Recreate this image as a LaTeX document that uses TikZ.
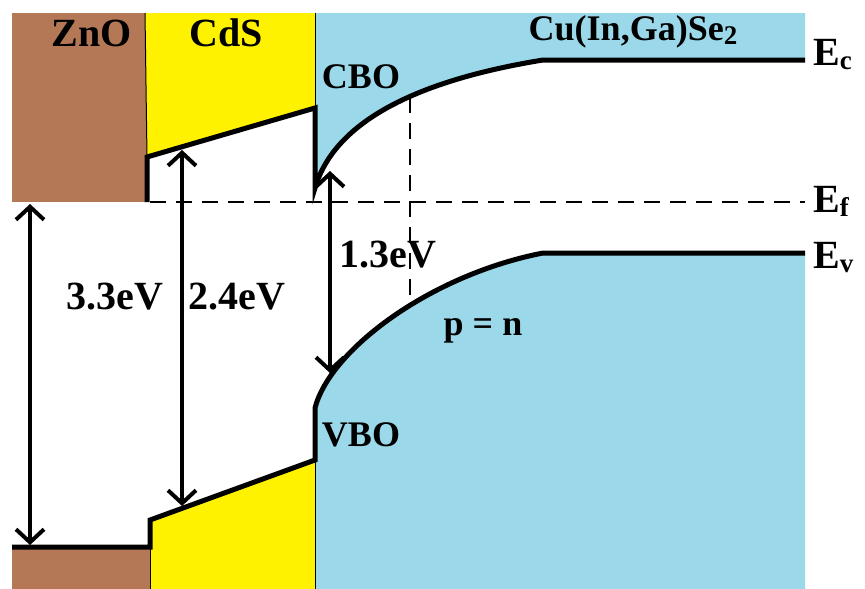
\documentclass[tikz,border=0pt]{standalone}
\usepackage{fontspec}
\setmainfont{Liberation Serif}[BoldFont={Liberation Serif Bold}]
\usetikzlibrary{arrows.meta,calc,positioning}
\definecolor{zno}{RGB}{181,120,86}
\definecolor{cds}{RGB}{255,242,0}
\definecolor{cigs}{RGB}{155,217,234}
\newcommand{\lblsize}[1]{\fontsize{#1}{#1}\selectfont\bfseries}
\newcommand{\lowsub}[1]{\raisebox{-0.25ex}{\fontsize{27}{27}\selectfont #1}}

\begin{document}
\begin{tikzpicture}[x=1pt,y=-1pt,>={Straight Barb[length=13pt,width=28pt]},
  band/.style={line width=5pt,line join=miter},
  gap/.style={<->,line width=4pt},
  level/.style={line width=1.5pt,dash pattern=on 16pt off 10pt},
  edge/.style={line width=1pt},
  txt/.style={inner sep=0pt,font=\lblsize{40}},
  small/.style={inner sep=0pt,font=\lblsize{36}}]
\useasboundingbox (0,0) rectangle (865,589);
% band corners
\coordinate (znoC) at (147,202);
\coordinate (cdsCl) at (147,157);
\coordinate (cdsCr) at (315,108);
\coordinate (cigsC0) at (315,188);
\coordinate (cigsCk) at (543,60);
\coordinate (cigsCr) at (805,60);
\coordinate (znoV) at (12,547);
\coordinate (znoVr) at (150,547);
\coordinate (cdsVl) at (150,520);
\coordinate (cdsVr) at (315,460);
\coordinate (cigsV0) at (315,408);
\coordinate (cigsVk) at (543,253);
\coordinate (cigsVr) at (805,253);
% layers
\fill[zno] (12,13) rectangle (znoC);
\fill[zno] (znoV) rectangle (150,589);
\fill[cds] (145,13) -- (315,13) -- (cdsCr) -- (cdsCl) -- cycle;
\fill[cds] (cdsVl) -- (cdsVr) -- (315,589) -- (150,589) -- cycle;
\fill[cigs] (315,13) -- (805,13) -- (cigsCr) -- (cigsCk)
  .. controls (420,80) and (335,120) .. (cigsC0) -- cycle;
\fill[cigs] (cigsV0) .. controls (330,350) and (430,275) .. (cigsVk)
  -- (cigsVr) -- (805,589) -- (315,589) -- cycle;
\draw[edge] (145,13) -- (cdsCl);
\draw[edge] (315,13) -- (cdsCr);
\draw[edge] (znoVr) -- (150,589);
\draw[edge] (cdsVr) -- (315,589);
% Fermi level and p = n plane
\coordinate (efl) at (150,202);
\coordinate (efr) at (805,202);
\coordinate (pnC) at (410,97);
\coordinate (pnV) at (410,306);
\draw[level] (efl) -- (efr);
\draw[level] (pnC) -- (pnV);
% bands
\draw[band] (znoC) -- (cdsCl) -- (cdsCr) -- (cigsC0)
  .. controls (335,120) and (420,80) .. (cigsCk) -- (cigsCr);
\draw[band] (znoV) -- (znoVr) -- (cdsVl) -- (cdsVr) -- (cigsV0)
  .. controls (330,350) and (430,275) .. (cigsVk) -- (cigsVr);
% gaps
\coordinate (gz1) at (30,204);
\coordinate (gz2) at (30,545);
\coordinate (gc1) at (182,150);
\coordinate (gc2) at (182,506);
\coordinate (gs1) at (330,171);
\coordinate (gs2) at (330,373);
\draw[gap] (gz1) -- (gz2);
\draw[gap] (gc1) -- (gc2);
\draw[gap] (gs1) -- (gs2);
% labels
\node[txt] (zno) at (92,33) {ZnO};
\node[txt] (cds) at (226,33) {CdS};
\node[small,anchor=base] (cigs) at (633,40) {Cu(In,Ga)Se\lowsub{2}};
\node[small] (cbo) at (361,77) {CBO};
\node[small] (vbo) at (361,435) {VBO};
\node[txt] (gapzno) at (115,297) {3.3eV};
\node[txt] (gapcds) at (237,297) {2.4eV};
\node[txt] (gapcigs) at (388,255) {1.3eV};
\node[small,anchor=base] (pn) at (483,335) {p = n};
\node[txt,anchor=base west] (ec) at (813,65) {E\lowsub{c}};
\node[txt,anchor=base west] (ef) at (813,212) {E\lowsub{f}};
\node[txt,anchor=base west] (ev) at (813,268) {E\lowsub{v}};
\end{tikzpicture}
\end{document}
